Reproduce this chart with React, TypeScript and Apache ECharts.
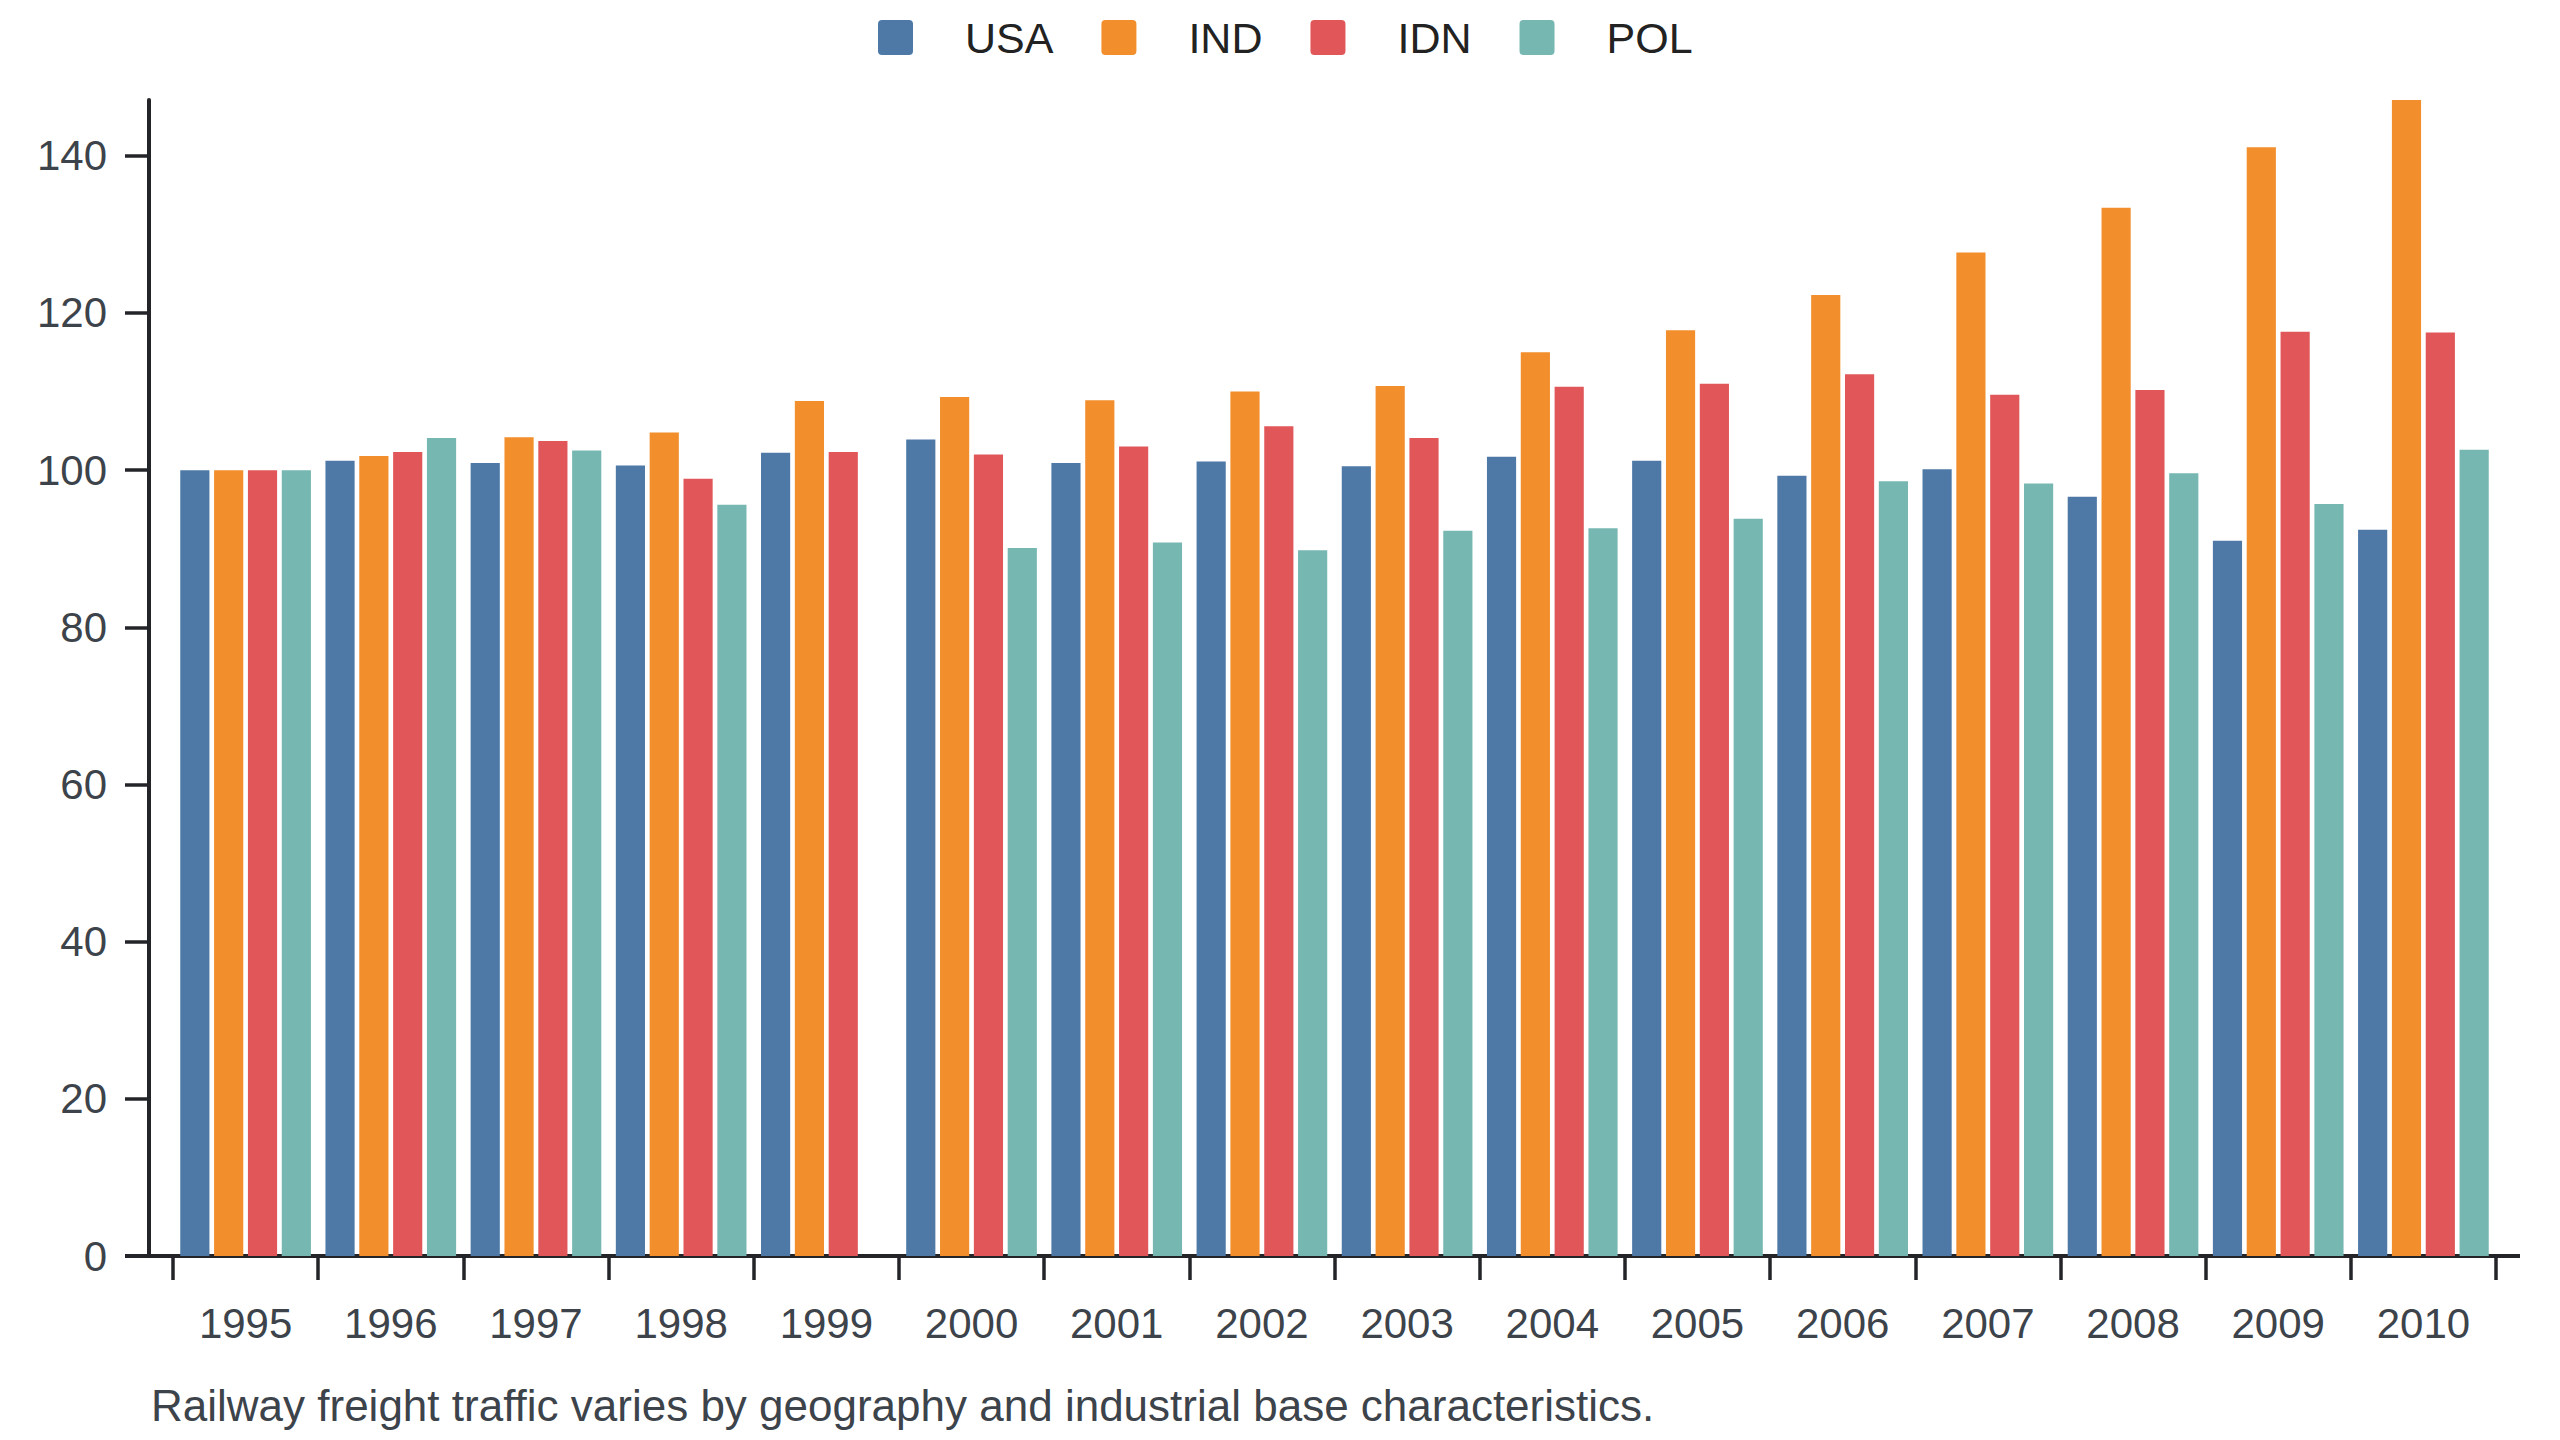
import { useEffect, useRef } from "react";
import * as echarts from "echarts";

const years = [
  "1995", "1996", "1997", "1998", "1999", "2000", "2001", "2002",
  "2003", "2004", "2005", "2006", "2007", "2008", "2009", "2010",
];

const usa = [100, 101.2, 100.9, 100.6, 102.2, 103.9, 100.9, 101.1, 100.5, 101.7, 101.2, 99.3, 100.1, 96.6, 91.0, 92.4];
const ind = [100, 101.8, 104.2, 104.8, 108.8, 109.3, 108.9, 110.0, 110.7, 115.0, 117.8, 122.3, 127.7, 133.4, 141.1, 147.1];
const idn = [100, 102.3, 103.7, 98.9, 102.3, 102.0, 103.0, 105.6, 104.1, 110.6, 111.0, 112.2, 109.6, 110.2, 117.6, 117.5];
const pol = [100, 104.1, 102.5, 95.6, null, 90.1, 90.8, 89.8, 92.3, 92.6, 93.8, 98.6, 98.3, 99.6, 95.7, 102.6];

const seriesNames = ["USA", "IND", "IDN", "POL"];
const colors = ["#4e79a7", "#f28e2b", "#e15759", "#76b7b2"];
const yTicks = [0, 20, 40, 60, 80, 100, 120, 140];

const caption = "Railway freight traffic varies by geography and industrial base characteristics.";

const FONT = "'Liberation Sans', Arial, sans-serif";
const AXIS_COLOR = "#222428";
const LABEL_COLOR = "#3d434a";

// small rounded square for the legend
const LEGEND_ICON =
  "path://M4,0 L31,0 Q35,0 35,4 L35,31 Q35,35 31,35 L4,35 Q0,35 0,31 L0,4 Q0,0 4,0 Z";

export default function App() {
  const chartRef = useRef<HTMLDivElement>(null);

  useEffect(() => {
    document.body.style.margin = "0";
    const myChart = echarts.init(chartRef.current!, null, { renderer: "svg" });

    const values = [usa, ind, idn, pol];

    const option = {
      animation: false,
      textStyle: { fontFamily: FONT },
      color: colors,
      title: {
        text: caption,
        left: 151,
        top: 1383,
        padding: 0,
        textStyle: {
          fontFamily: FONT,
          fontSize: 44,
          fontWeight: "normal",
          color: LABEL_COLOR,
        },
      },
      legend: {
        top: 16,
        left: 878,
        padding: 0,
        itemWidth: 35,
        itemHeight: 35,
        itemGap: 48,
        icon: LEGEND_ICON,
        textStyle: {
          fontFamily: FONT,
          fontSize: 43,
          lineHeight: 35,
          color: "#222",
          padding: [0, 0, 0, 47],
        },
        data: seriesNames,
      },
      grid: {
        left: 173,
        right: 64,
        top: 100,
        bottom: 184,
        containLabel: false,
      },
      xAxis: {
        type: "category",
        data: years,
        axisLine: { lineStyle: { color: AXIS_COLOR, width: 4 } },
        axisTick: {
          show: true,
          interval: 0,
          length: 24,
          lineStyle: { color: AXIS_COLOR, width: 3.5 },
        },
        axisLabel: {
          interval: 0,
          margin: 46,
          fontSize: 42,
          color: LABEL_COLOR,
          fontFamily: FONT,
        },
        splitLine: { show: false },
      },
      yAxis: {
        type: "value",
        min: yTicks[0],
        max: 147.1,
        interval: 20,
        offset: 24,
        axisLine: { show: true, lineStyle: { color: AXIS_COLOR, width: 4 } },
        axisTick: { show: true, length: 24, lineStyle: { color: AXIS_COLOR, width: 3.5 } },
        axisLabel: {
          margin: 42,
          fontSize: 42,
          color: LABEL_COLOR,
          fontFamily: FONT,
          showMaxLabel: false,
          formatter: (v: number) => (yTicks.includes(v) ? String(v) : ""),
        },
        splitLine: { show: false },
      },
      graphic: [
        {
          type: "line",
          shape: { x1: 125, y1: 1256, x2: 175, y2: 1256 },
          style: { stroke: AXIS_COLOR, lineWidth: 4 },
        },
        {
          type: "line",
          shape: { x1: 2494, y1: 1256, x2: 2520, y2: 1256 },
          style: { stroke: AXIS_COLOR, lineWidth: 4 },
        },
      ],
      series: seriesNames.map((name, i) => ({
        name,
        type: "bar",
        data: values[i],
        barCategoryGap: "10%",
        barGap: "16%",
        itemStyle: { color: colors[i] },
      })),
    };

    myChart.setOption(option);

    return () => {
      myChart.dispose();
    };
  }, []);

  return <div ref={chartRef} style={{ width: "2560px", height: "1440px" }} />;
}
